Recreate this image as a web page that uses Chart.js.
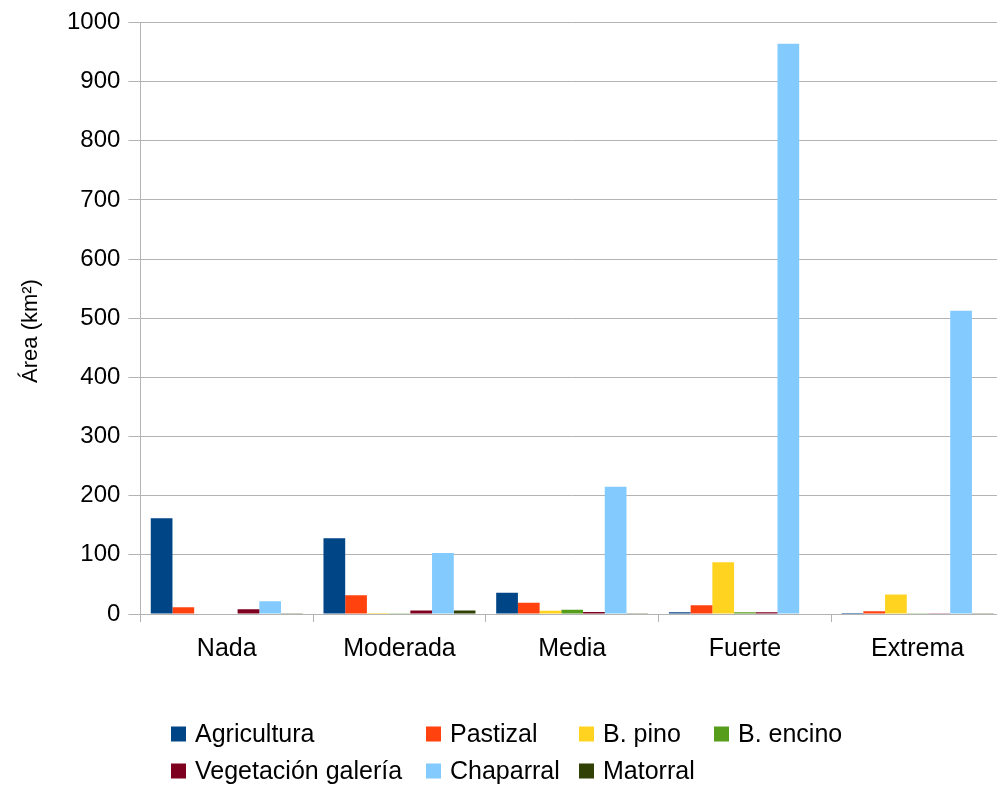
<!DOCTYPE html>
<html>
<head>
<meta charset="utf-8">
<script src="https://cdn.jsdelivr.net/npm/chart.js@4/dist/chart.umd.min.js"></script>
<style>
html,body{margin:0;padding:0;background:#fff;overflow:hidden;}
#wrap{position:relative;width:1004px;height:788px;}
</style>
</head>
<body>
<div id="wrap"><canvas id="c"></canvas></div>
<script>
const categories = ["Nada", "Moderada", "Media", "Fuerte", "Extrema"];
const seriesNames = ["Agricultura", "Pastizal", "B. pino", "B. encino", "Vegetación galería", "Chaparral", "Matorral"];
const agricultura = [162, 128, 36, 3, 1.7];
const pastizal = [11.5, 31.5, 19, 14.7, 4.5];
const bPino = [0, 1.5, 5.6, 87.5, 33];
const bEncino = [0, 0.5, 7, 3, 0.5];
const vegetacionGaleria = [8, 6, 3.5, 3, 0.5];
const chaparral = [21.5, 103, 215, 964, 512.5];
const matorral = [0.6, 6, 0.5, 0, 0.5];
const yTicks = [0, 100, 200, 300, 400, 500, 600, 700, 800, 900, 1000];
const yTitle = "Área (km²)";

const colors = ["#004586", "#ff420e", "#ffd320", "#579d1c", "#7e0021", "#83caff", "#314004"];
const seriesValues = [agricultura, pastizal, bPino, bEncino, vegetacionGaleria, chaparral, matorral];

const FONT = "'Liberation Sans', Arial, sans-serif";

const gridLegend = {
  id: 'gridLegend',
  afterDraw(chart) {
    const ctx = chart.ctx;
    const colX = [171, 426, 579, 714];
    const rowY = [734, 771];
    const box = 15;
    ctx.save();
    ctx.font = "25px " + FONT;
    ctx.textBaseline = 'middle';
    ctx.textAlign = 'left';
    chart.data.datasets.forEach((ds, i) => {
      const row = i < 4 ? 0 : 1;
      const col = i < 4 ? i : i - 4;
      const x = colX[col], y = rowY[row];
      ctx.fillStyle = ds.backgroundColor;
      ctx.fillRect(x, y - box / 2, box, box);
      ctx.fillStyle = '#000';
      ctx.fillText(ds.label, x + box + 9, y + 1);
    });
    // y-axis title
    ctx.font = "22px " + FONT;
    ctx.textAlign = 'center';
    ctx.translate(31, 331);
    ctx.rotate(-Math.PI / 2);
    ctx.fillText(yTitle, 0, 0);
    ctx.restore();
  }
};

new Chart(document.getElementById('c'), {
  type: 'bar',
  data: {
    labels: categories,
    datasets: seriesNames.map((n, i) => ({
      label: n,
      data: seriesValues[i],
      backgroundColor: colors[i],
      borderWidth: 0,
      categoryPercentage: 0.88,
      barPercentage: 1.0
    }))
  },
  options: {
    responsive: true,
    maintainAspectRatio: false,
    animation: false,
    layout: { padding: { top: 12, right: 0, bottom: 112, left: 59 } },
    plugins: {
      legend: { display: false },
      tooltip: { enabled: false }
    },
    scales: {
      x: {
        grid: { drawOnChartArea: false, drawTicks: true, tickLength: 8, color: '#b3b3b3', offset: true },
        border: { color: '#b3b3b3', width: 1 },
        ticks: { color: '#000', font: { family: FONT, size: 25 }, padding: 12 }
      },
      y: {
        min: 0, max: 1000,
        afterBuildTicks(scale) { scale.ticks = yTicks.map(v => ({ value: v })); },
        grid: { color: '#b3b3b3', tickLength: 12 },
        border: { color: '#b3b3b3', width: 1 },
        ticks: { color: '#000', font: { family: FONT, size: 24 }, padding: 8, callback: v => String(v) }
      }
    }
  },
  plugins: [gridLegend]
});
</script>
</body>
</html>
